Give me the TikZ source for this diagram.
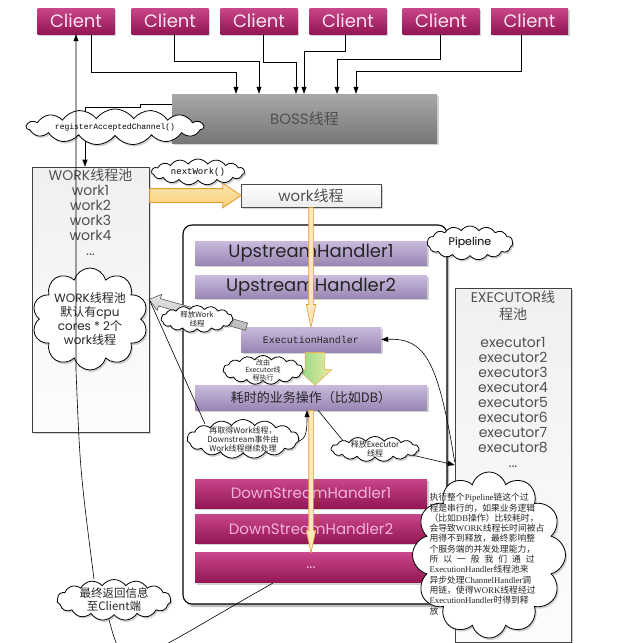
\documentclass[tikz,border=0pt]{standalone}
\usepackage{fontspec}
\setmainfont{Poppins}
\setmonofont{Liberation Mono}
\newfontfamily\cjk{Noto Sans CJK SC}
\newfontfamily\latserif{Liberation Serif}
\usepackage{tikz}
\usetikzlibrary{shapes.symbols, shapes.arrows, arrows.meta, positioning, shadows, calc}

\definecolor{clienttop}{HTML}{C8468A}
\definecolor{clientbot}{HTML}{931653}
\definecolor{clienttxt}{HTML}{F7E4EE}
\definecolor{purtop}{HTML}{C9BADD}
\definecolor{purbot}{HTML}{9A86B4}
\definecolor{bosstop}{HTML}{A8A8A8}
\definecolor{bossbot}{HTML}{777777}
\definecolor{txtgray}{HTML}{505050}
\definecolor{pinktxt}{HTML}{F4B2D8}
\definecolor{yfill}{HTML}{F9CF76}
\definecolor{ydraw}{HTML}{E39B2F}
\definecolor{gtop}{HTML}{8CD98A}
\definecolor{gbot}{HTML}{EEEA9C}

\newcommand{\lat}[1]{{\latserif #1}}

\begin{document}
\begin{tikzpicture}[x=1pt, y=-1pt,
    every node/.style={inner sep=0pt},
    shad/.style={drop shadow={shadow xshift=1.5pt, shadow yshift=-2pt, opacity=0.35}},
    client/.style={rectangle, top color=clienttop, bottom color=clientbot, minimum width=77pt, minimum height=26pt, text=clienttxt, font=\fontsize{18}{20}\selectfont, shad},
    boss/.style={rectangle, top color=bosstop, bottom color=bossbot, minimum width=265pt, minimum height=49pt, text=txtgray, font=\fontsize{15}{18}\selectfont, shad},
    pool/.style={rectangle, draw=black!75, line width=0.6pt, top color=gray!12, bottom color=gray!2, shad},
    pooltext/.style={align=center, text=txtgray, font=\fontsize{14}{15}\selectfont},
    workbox/.style={rectangle, draw=black!70, line width=0.6pt, top color=white, bottom color=gray!15, minimum width=140pt, minimum height=23pt, text=txtgray, font=\fontsize{15}{18}\selectfont, shad},
    pipe/.style={rectangle, rounded corners=9pt, draw=black, line width=1.1pt, fill=white, drop shadow={shadow xshift=2pt, shadow yshift=-3pt, opacity=0.5}},
    uphandler/.style={rectangle, top color=purtop, bottom color=purbot, minimum width=232pt, text=black!85, shad},
    downhandler/.style={rectangle, top color=clienttop, bottom color=clientbot, minimum width=232pt, minimum height=29pt, text=pinktxt, font=\fontsize{15}{18}\selectfont, shad},
    cloudy/.style={cloud, cloud puffs=10, cloud ignores aspect, draw=black, line width=0.8pt, fill=white, shad},
    flatcloud/.style={cloudy, cloud puffs=15, cloud puff arc=110},
    note/.style={align=center, text=black!85},
    arr/.style={-{Triangle[length=7pt, width=5pt]}, line width=0.6pt},
    link/.style={line width=0.6pt},
    fatarrow/.style={to path={let \p1=(\tikztostart), \p2=(\tikztotarget) in (\tikztostart) node[single arrow, anchor=tail, inner sep=0pt, text depth=0pt, minimum height={veclen(\x2-\x1,\y2-\y1)}, rotate={atan2(\y2-\y1,\x2-\x1)}, #1] {} (\tikztotarget)}}
]
    \useasboundingbox (0,0) rectangle (628,643);

    % clients and boss
    \foreach \i/\x in {1/76, 2/170, 3/259, 4/348, 5/441, 6/529.5}
        \node[client] (c\i) at (\x,21) {Client};
    \node[boss] (boss) at (304.5,118.5) {BOSS{\cjk 线程}};
    \foreach \i/\dx/\h/\tx in {1/15/38/-68.5, 2/4/27/-45.5, 3/4/28/-8.5, 4/-3/17/-0.5, 5/-1/25/32.5, 6/-8/37/51.5}
        \draw[arr] ([xshift=\dx]c\i.south) -- ++(0,\h) -| ([xshift=\tx]boss.north);

    % thread pools
    \node[pool, minimum width=117pt, minimum height=265pt] (workpool) at (90.5,299.5) {};
    \node[pooltext, anchor=north] (worklist) at ([yshift=-2pt]workpool.north) {WORK{\cjk 线程池}\\work1\\work2\\work3\\work4\\...};
    \node[pool, minimum width=116pt, minimum height=354pt] (execpool) at (513,465) {};
    \node[pooltext, anchor=north] (execlist) at ([yshift=-3pt]execpool.north) {EXECUTOR{\cjk 线}\\[2pt]{\cjk 程池}\\[13pt]executor1\\executor2\\executor3\\executor4\\executor5\\executor6\\executor7\\executor8\\...};

    \draw[arr] ([yshift=-10pt]boss.north west) -- ++(-32,0) -- ++(0,3) -| ([xshift=-5.5pt]workpool.north);

    % pipeline
    \node[pipe, minimum width=264pt, minimum height=379pt] (pipe) at (315,414.5) {};
    \node[workbox] (work) at (311,195.5) {work{\cjk 线程}};
    \node[uphandler, minimum height=24pt, font=\fontsize{18}{20}\selectfont] (up1) at (311,253) {UpstreamHandler1};
    \node[uphandler, minimum height=23pt, font=\fontsize{18}{20}\selectfont, below=10pt of up1] (up2) {UpstreamHandler2};
    \node[uphandler, minimum width=140pt, minimum height=25pt, font=\ttfamily\fontsize{10}{12}\selectfont] (exec) at (311,339.5) {ExecutionHandler};
    \node[uphandler, minimum height=25pt, font=\cjk\fontsize{13}{15}\selectfont] (biz) at (311,397.5) {耗时的业务操作（比如DB）};
    \node[downhandler] (down1) at (311,493.5) {DownStreamHandler1};
    \node[downhandler, below=6pt of down1] (down2) {DownStreamHandler2};
    \node[downhandler, minimum height=30pt, below=9pt of down2] (dots) {...};

    % fat arrows
    \path (workpool.east |- work.west) to[fatarrow={text height=13pt, single arrow head extend=5.5pt, single arrow tip angle=68, draw=ydraw, line width=0.8pt, top color=yfill!55!white, bottom color=yfill}] (work.west);
    \path (work.south) to[fatarrow={text height=4pt, single arrow head extend=2.5pt, single arrow tip angle=24, draw=ydraw, line width=0.6pt, fill=yfill!50!white}] (exec.north);
    \path (biz.south) to[fatarrow={text height=4pt, single arrow head extend=2.5pt, single arrow tip angle=24, draw=ydraw, line width=0.6pt, fill=yfill!50!white}] (dots.north);
    \path ([xshift=4pt]exec.south) to[fatarrow={text height=19pt, single arrow head extend=7pt, single arrow tip angle=95, draw=ydraw!80, line width=0.6pt, left color=gtop, right color=gbot}] ([xshift=4pt]biz.north);
    \path ([xshift=6pt]exec.north west) to[fatarrow={text height=7pt, single arrow head extend=4.5pt, single arrow tip angle=75, draw=black!65, line width=0.6pt, top color=gray!20, bottom color=gray!55}] (workpool.east);

    % connectors under the clouds
    \coordinate (bend) at (76,370);
    \draw[link] (workpool.east) -- (205,424);
    \draw[arr] (297,441) .. controls +(10,0) and +(0,18) .. ([xshift=-4pt]biz.south);
    \draw[link] ([xshift=7pt]biz.south) -- (344,442);
    \draw[arr] (412,455) -- (execpool.west);
    \draw[arr] ([yshift=3pt]execpool.west) .. controls (438,360) and (425,338) .. (exec.east);
    \draw[link] ([xshift=-38pt]dots.south) .. controls (123,668) and (125,680) .. (108,616);

    % clouds
    \node[flatcloud, minimum width=177pt, minimum height=36pt] (rac) at (115,127) {};
    \node[font=\ttfamily\fontsize{8}{9}\selectfont] (raclbl) at (rac) {registerAcceptedChannel()};
    \node[flatcloud, minimum width=93pt, minimum height=26pt] (nw) at (198,172) {};
    \node[font=\ttfamily\fontsize{9}{10}\selectfont] (nwlbl) at (nw) {nextWork()};
    \node[flatcloud, minimum width=86pt, minimum height=34pt] (pl) at (470,243) {};
    \node[font=\fontsize{11}{12}\selectfont] (pllbl) at (pl) {Pipeline};
    \node[cloudy, minimum width=116pt, minimum height=102pt] (workcloud) at (90,319) {};
    \node[note, font=\fontsize{12}{14}\selectfont] (workcloudlbl) at (workcloud) {WORK{\cjk 线程池}\\{\cjk 默认有}cpu\\cores * 2{\cjk 个}\\work{\cjk 线程}};
    \node[flatcloud, minimum width=72pt, minimum height=27pt] (relwork) at (197,319) {};
    \node[note, font=\cjk\fontsize{7.5}{8.5}\selectfont] (relworklbl) at (relwork) {释放Work\\线程};
    \node[flatcloud, minimum width=80pt, minimum height=29pt] (viaexec) at (263,370) {};
    \node[note, font=\cjk\fontsize{7}{7.5}\selectfont] (viaexeclbl) at (viaexec) {改由\\Executor线\\程执行};
    \node[flatcloud, minimum width=112pt, minimum height=39pt] (again) at (243,439) {};
    \node[note, font=\cjk\fontsize{8}{9}\selectfont] (againlbl) at (again) {再取得Work线程，\\Downstream事件由\\Work线程继续处理};
    \node[flatcloud, minimum width=88pt, minimum height=25pt] (relexec) at (375,449) {};
    \node[note, font=\cjk\fontsize{8}{9}\selectfont] (relexeclbl) at (relexec) {释放Executor\\线程};
    \node[cloudy, cloud puffs=12, minimum width=153pt, minimum height=166pt] (bigcloud) at (489,555) {};
    \node[align=left, text=black!85, font=\cjk\fontsize{8.8}{10.3}\selectfont] (biglbl) at (487,554) {执行整个\lat{Pipeline}链这个过\\程是串行的，如果业务逻辑\\（比如\lat{DB}操作）比较耗时，\\会导致\lat{WORK}线程长时间被占\\用得不到释放，最终影响整\\个服务端的并发处理能力，\\\makebox[105pt][s]{所 以 一 般 我 们 通 过}\\\lat{ExecutionHandler}线程池来\\异步处理\lat{ChannelHandler}调\\用链，使得\lat{WORK}线程经过\\\lat{ExecutionHandler}时得到释\\放};
    \node[flatcloud, minimum width=114pt, minimum height=41pt] (retcloud) at (114,600) {};
    \node[note, font=\cjk\fontsize{11.5}{13}\selectfont] (retcloudlbl) at (retcloud) {最终返回信息\\至Client端};

    % way back to the client
    \draw[arr] ([xshift=-20pt]retcloud.north) .. controls (80,470) .. (bend) -- (c1.south);
\end{tikzpicture}
\end{document}
